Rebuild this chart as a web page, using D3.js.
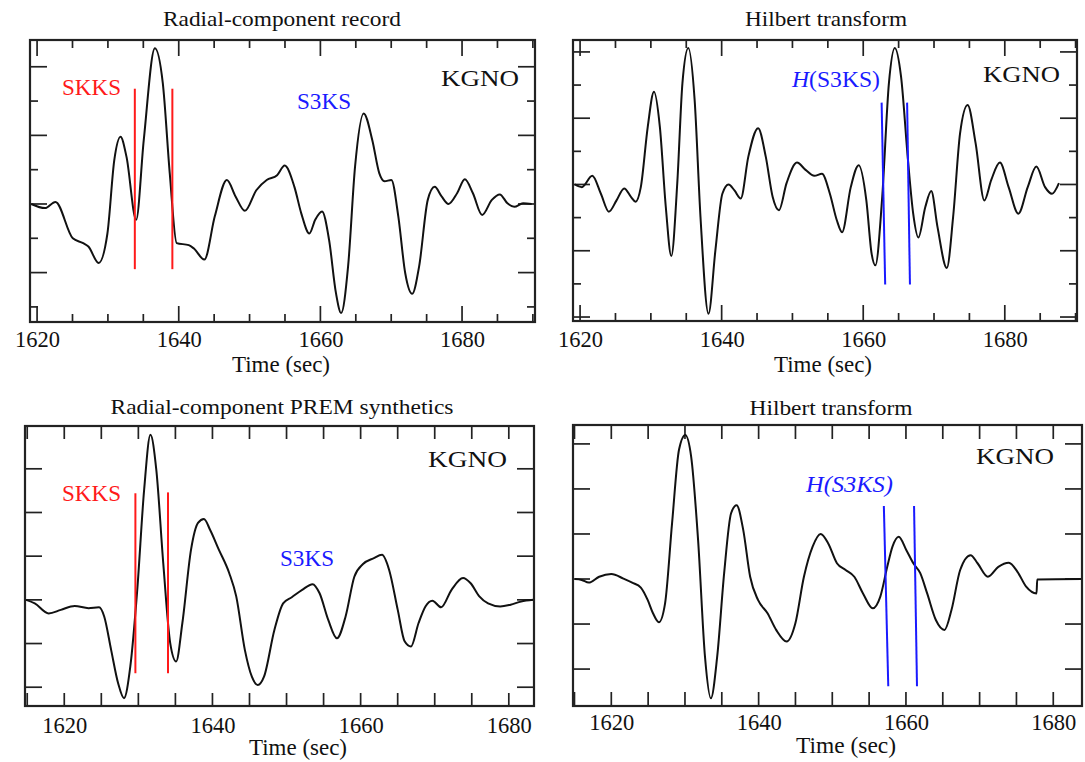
<!DOCTYPE html>
<html><head><meta charset="utf-8">
<script src="https://cdn.jsdelivr.net/npm/d3@7"></script>
<style>
html,body{margin:0;padding:0;background:#fff;}
</style></head>
<body><svg id="chart" width="1085" height="762"></svg>
<script>
const FONT = "'Liberation Serif', 'Times New Roman', Times, 'DejaVu Serif', serif";
// ---- data (time in s, amplitude in arbitrary units) ----
const recTime = [1619.17,1621.12,1622.59,1625.04,1626.50,1627.24,1628.70,1629.93,1630.90,1631.78,1632.62,1633.99,1635.06,1636.63,1637.75,1638.73,1639.71,1641.42,1642.15,1643.62,1645.09,1646.80,1648.02,1649.34,1650.95,1652.42,1653.89,1654.96,1656.33,1657.31,1658.44,1659.27,1660.24,1661.22,1662.20,1662.93,1663.91,1664.89,1666.11,1667.33,1668.31,1669.05,1670.02,1671.00,1671.98,1672.96,1673.94,1675.16,1676.14,1677.11,1678.09,1679.32,1680.39,1681.52,1682.84,1684.21,1685.33,1686.41,1687.38,1688.61,1689.83];
const recAmp  = [0,-0.06,0.03,-0.50,-0.57,-0.62,-0.86,-0.43,0.64,0.98,0.69,-0.23,0.93,2.27,1.76,0.45,-0.57,-0.60,-0.65,-0.81,-0.18,0.35,0.11,-0.10,0.20,0.35,0.42,0.56,0.25,-0.14,-0.43,-0.23,-0.11,-0.52,-1.30,-1.59,-0.91,0.54,1.32,0.93,0.45,0.33,0.35,-0.18,-1.01,-1.31,-0.91,0.06,0.25,0.11,0,0.16,0.36,0.16,-0.16,0.06,0.14,0.01,-0.04,0.01,0];

const recHilTime = [1619.26,1620.25,1621.72,1622.94,1624.07,1625.15,1626.23,1627.21,1627.84,1628.58,1629.56,1630.44,1631.27,1632.11,1632.89,1633.73,1634.46,1635.29,1636.18,1637.01,1638.14,1639.12,1640.10,1640.98,1641.81,1642.70,1643.77,1645.15,1646.23,1647.21,1648.09,1649.17,1650.64,1651.86,1653.09,1654.17,1655.29,1656.27,1657.01,1658.24,1659.36,1660.44,1661.18,1661.72,1662.65,1663.63,1664.46,1665.34,1666.32,1667.06,1667.79,1668.77,1669.61,1670.49,1671.81,1672.70,1673.68,1674.75,1675.88,1677.11,1678.09,1679.31,1680.54,1681.91,1683.24,1684.46,1685.69,1686.67,1687.65];
const recHilAmp  = [0,-0.04,0.13,-0.14,-0.41,-0.24,-0.06,-0.19,-0.26,-0.04,0.87,1.40,0.87,-0.34,-1.08,0.02,1.53,2.06,1.28,-0.49,-1.95,-0.99,-0.14,0,-0.09,-0.21,0.42,0.85,0.42,-0.19,-0.39,0.02,0.33,0.22,0.13,0.16,-0.14,-0.54,-0.72,-0.04,0.29,-0.24,-1.04,-1.22,-0.24,1.53,2.06,1.63,0.37,-0.44,-0.80,-0.34,-0.10,-0.64,-1.26,-0.49,0.77,1.20,0.62,-0.24,0.07,0.33,-0.04,-0.44,-0.04,0.27,-0.04,-0.14,0.02];

const synTime = [1614.84,1616.02,1617.89,1619.53,1621.41,1623.28,1624.69,1625.39,1626.33,1627.27,1628.06,1628.91,1629.85,1630.78,1631.63,1632.42,1633.36,1634.30,1635.10,1635.94,1637.11,1638.05,1638.85,1639.69,1640.86,1642.27,1643.21,1644.38,1645.32,1646.11,1646.96,1648.36,1649.54,1650.71,1652.11,1653.52,1654.46,1655.63,1656.80,1657.97,1659.15,1660.32,1661.73,1662.90,1663.84,1665.01,1665.94,1666.79,1667.82,1668.75,1669.69,1670.86,1672.27,1673.82,1674.85,1676.02,1677.20,1678.84,1680.24,1681.65,1683.29];
const synAmp  = [0,-0.08,-0.31,-0.23,-0.14,-0.19,-0.17,-0.38,-1.15,-1.91,-2.25,-1.53,0.23,2.52,3.78,2.98,0.84,-0.99,-1.41,-0.53,1.15,1.76,1.85,1.60,1.15,0.61,0.08,-1.15,-1.76,-1.95,-1.76,-0.69,-0.08,0.06,0.23,0.36,0.15,-0.46,-0.88,-0.38,0.53,0.82,0.95,1.03,0.69,-0.23,-0.95,-1.07,-0.53,-0.15,-0.02,-0.17,0.23,0.50,0.38,0.08,-0.08,-0.15,-0.11,-0.04,0];

const synHilTime = [1615.05,1615.99,1616.94,1618.35,1620.00,1621.65,1622.83,1624.01,1624.95,1625.66,1626.46,1627.30,1628.25,1629.19,1630.04,1630.84,1631.78,1632.72,1633.52,1634.37,1635.32,1636.26,1637.01,1637.91,1638.85,1639.93,1641.21,1642.38,1643.80,1644.98,1646.15,1647.33,1648.42,1649.45,1650.63,1651.81,1652.99,1654.17,1655.49,1656.52,1657.46,1658.17,1659.02,1660.06,1661.00,1661.94,1662.88,1664.06,1665.24,1666.18,1667.36,1668.77,1669.72,1671.13,1672.54,1673.96,1675.14,1676.32,1677.73,1677.82,1683.86];
const synHilAmp  = [0,-0.02,-0.08,0.05,0.11,0.01,-0.08,-0.19,-0.47,-0.76,-0.96,-0.54,1.24,2.87,3.20,2.72,0.87,-1.73,-2.65,-1.73,0.13,1.46,1.64,1.09,0.05,-0.47,-0.76,-1.13,-1.39,-0.99,0.05,0.72,1.00,0.79,0.35,0.20,0.05,-0.32,-0.65,-0.39,0.27,0.72,0.94,0.64,0.35,0.13,-0.32,-0.91,-1.13,-0.69,0.20,0.53,0.35,0.05,0.27,0.36,0.16,-0.17,-0.32,-0.01,0];

// phase window markers: [timeTop, timeBottom, ampTop, ampBottom]
const recSKKS    = [[1633.8,1633.8,1.68,-0.95],[1639.1,1639.1,1.68,-0.95]];
const recHilS3KS = [[1662.6,1663.1,1.235,-1.51],[1666.2,1666.6,1.235,-1.51]];
const synSKKS    = [[1629.6,1629.6,2.44,-1.68],[1634.0,1634.0,2.46,-1.68]];
const synHilS3KS = [[1657.0,1657.6,1.62,-2.38],[1661.1,1661.5,1.62,-2.38]];

const xTickLabels = [1620,1640,1660,1680];
const titles = ["Radial-component record","Hilbert transform","Radial-component PREM synthetics","Hilbert transform"];
const station = "KGNO";
const axisLabel = "Time (sec)";

// ---- layout ----
const svg = d3.select("#chart");
const panels = [
  {time:recTime, amp:recAmp, marks:recSKKS, color:"#ff1a1a",
   box:[30,40,535,322], xd:[1619,1690.3], yd:[-1.72,2.39], yMinor:0.5, yMajorEvery:2,
   xMaj:16, xMin:8, yMaj:17, yMin:8,
   title:{x:282,y:26,w:238}, phase:{text:"SKKS",x:62,y:95,w:59,italic:"none"},
   phase2:{text:"S3KS",x:297,y:109,w:54,color:"#1a1aff"},
   stn:{x:441,y:86,w:78}, axis:{x:281,y:372,w:98}, tickY:347},
  {time:recHilTime, amp:recHilAmp, marks:recHilS3KS, color:"#1a1aff",
   box:[573,40,1077,321], xd:[1619,1690.2], yd:[-2.06,2.18], yMinor:0.5, yMajorEvery:2,
   xMaj:16, xMin:8, yMaj:17, yMin:8,
   title:{x:826,y:26,w:162}, phase:{text:"S3KS",x:792,y:87,w:88,italic:"H"},
   stn:{x:983,y:82,w:77}, axis:{x:823,y:372,w:98}, tickY:347},
  {time:synTime, amp:synAmp, marks:synSKKS, color:"#ff1a1a",
   box:[25,426,534,706], xd:[1614.7,1683.4], yd:[-2.43,3.98], yMinor:1, yMajorEvery:1,
   xMaj:13, xMin:13, yMaj:17, yMin:17,
   title:{x:282,y:414,w:343}, phase:{text:"SKKS",x:62,y:501,w:59,italic:"none"},
   phase2:{text:"S3KS",x:280,y:566,w:54,color:"#1a1aff"},
   stn:{x:428,y:467,w:79}, axis:{x:298,y:755,w:98}, tickY:733},
  {time:synHilTime, amp:synHilAmp, marks:synHilS3KS, color:"#1a1aff",
   box:[573,425,1082,706], xd:[1614.8,1683.9], yd:[-2.82,3.42], yMinor:1, yMajorEvery:1,
   xMaj:14, xMin:14, yMaj:17, yMin:17,
   title:{x:831,y:415,w:163}, phase:{text:"S3KS",x:806,y:492,w:87,italic:"all"},
   stn:{x:976,y:464,w:78}, axis:{x:846,y:753,w:100}, tickY:730}
];

function txt(x, y, size, fill, anchor, w) {
  const t = svg.append("text").attr("x",x).attr("y",y).attr("font-size",size)
    .attr("fill",fill).attr("font-family",FONT).attr("text-anchor",anchor||"start");
  if (w) t.attr("textLength",w).attr("lengthAdjust","spacingAndGlyphs");
  return t;
}

panels.forEach(p => {
  const [L,T,R,B] = p.box;
  const x = d3.scaleLinear().domain(p.xd).range([L,R]);
  const y = d3.scaleLinear().domain(p.yd).range([B,T]);
  const g = svg.append("g");

  const xt = d3.range(Math.ceil(p.xd[0]/5)*5, p.xd[1], 5);
  xt.forEach(v => {
    const len = (v % 20 === 0) ? p.xMaj : p.xMin;
    g.append("line").attr("x1",x(v)).attr("x2",x(v)).attr("y1",B).attr("y2",B-len)
      .attr("stroke","#222").attr("stroke-width",1.7);
    g.append("line").attr("x1",x(v)).attr("x2",x(v)).attr("y1",T).attr("y2",T+len)
      .attr("stroke","#222").attr("stroke-width",1.7);
  });
  const yt = d3.range(Math.ceil(p.yd[0]/p.yMinor)*p.yMinor, p.yd[1], p.yMinor);
  yt.forEach(v => {
    const k = Math.round(v/p.yMinor);
    const len = (k % p.yMajorEvery === 0) ? p.yMaj : p.yMin;
    g.append("line").attr("x1",L).attr("x2",L+len).attr("y1",y(v)).attr("y2",y(v))
      .attr("stroke","#222").attr("stroke-width",1.7);
    g.append("line").attr("x1",R).attr("x2",R-len).attr("y1",y(v)).attr("y2",y(v))
      .attr("stroke","#222").attr("stroke-width",1.7);
  });
  const ax = d3.axisBottom(x).tickValues(xTickLabels).tickSize(0).tickPadding(0).tickFormat(d3.format("d"));
  const axg = svg.append("g").attr("transform",`translate(0,${p.tickY})`).call(ax)
     .attr("font-family",FONT).attr("font-size",22.5);
  axg.select(".domain").remove();
  axg.selectAll("text").attr("dy",0).attr("y",0).attr("fill","#111");

  const pts = p.time.map((t,i)=>[t,p.amp[i]]);
  g.append("path").datum(pts)
    .attr("d", d3.line().x(d=>x(d[0])).y(d=>y(d[1])).curve(d3.curveMonotoneX))
    .attr("fill","none").attr("stroke","#111").attr("stroke-width",2);

  p.marks.forEach(m => {
    g.append("line").attr("x1",x(m[0])).attr("x2",x(m[1])).attr("y1",y(m[2])).attr("y2",y(m[3]))
      .attr("stroke",p.color).attr("stroke-width",2);
  });

  g.append("rect").attr("x",L).attr("y",T).attr("width",R-L).attr("height",B-T)
    .attr("fill","none").attr("stroke","#222").attr("stroke-width",2.2);

  const i = panels.indexOf(p);
  txt(p.title.x, p.title.y, 21.5, "#111", "middle", p.title.w).text(titles[i]);
  txt(p.axis.x, p.axis.y, 22.5, "#111", "middle", p.axis.w).text(axisLabel);
  txt(p.stn.x, p.stn.y, 23.5, "#111", "start", p.stn.w).text(station);
  if (p.phase.italic === "none") {
    txt(p.phase.x, p.phase.y, 22.5, p.color, "start", p.phase.w).text(p.phase.text);
  } else {
    const t = txt(p.phase.x, p.phase.y, 22.5, p.color, "start", p.phase.w);
    t.append("tspan").attr("font-style","italic").text("H");
    t.append("tspan").attr("font-style", p.phase.italic==="all" ? "italic" : "normal").text("("+p.phase.text+")");
  }
  if (p.phase2) txt(p.phase2.x, p.phase2.y, 22.5, p.phase2.color, "start", p.phase2.w).text(p.phase2.text);
});
</script></body></html>
